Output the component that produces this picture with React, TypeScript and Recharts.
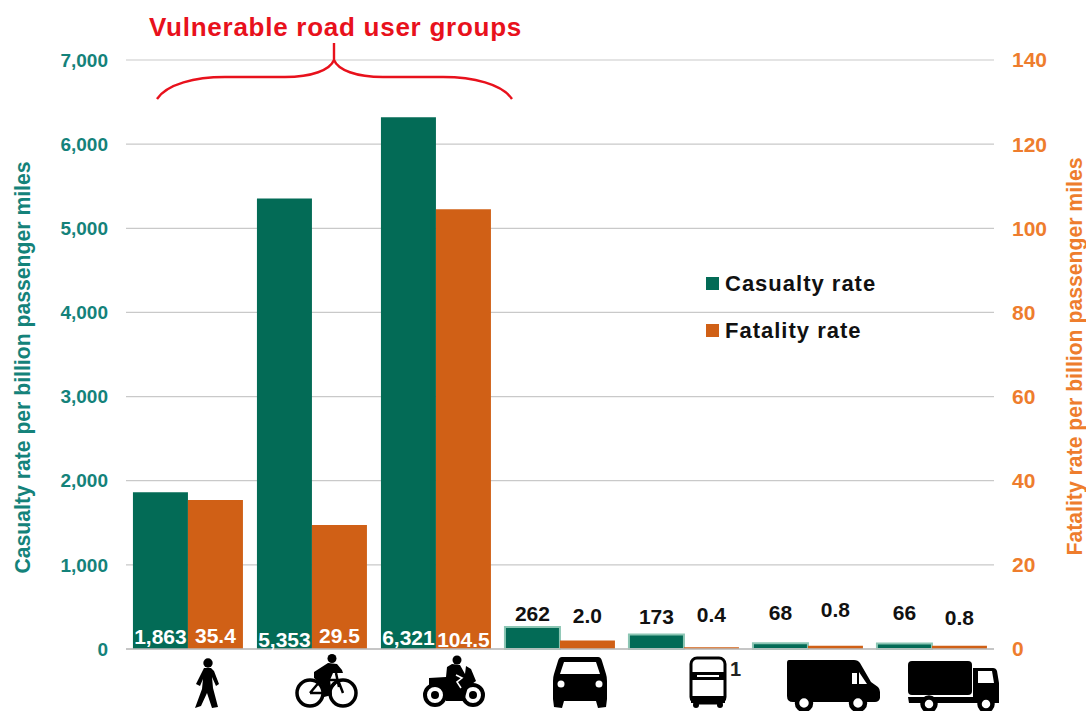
import { BarChart, Bar, XAxis, YAxis, CartesianGrid, Cell, LabelList, Legend } from 'recharts';

const categories = ['Pedestrian', 'Cyclist', 'Motorcyclist', 'Car', 'Bus', 'Van', 'Truck'];
const casualtyRates = [1863, 5353, 6321, 262, 173, 68, 66];
const fatalityRates = [35.4, 29.5, 104.5, 2.0, 0.4, 0.8, 0.8];
const leftTicks = [0, 1000, 2000, 3000, 4000, 5000, 6000, 7000];
const rightTicks = [0, 20, 40, 60, 80, 100, 120, 140];

const data = categories.map((name, i) => ({
  name,
  casualty: casualtyRates[i],
  fatality: fatalityRates[i],
}));

// Colors
const GREEN = '#036b56';
const ORANGE = '#d06016';
const GREEN_EDGE = '#8cc6b4';
const TEAL_TEXT = '#14827a';
const ORANGE_TEXT = '#ee7d2d';
const RED = '#e8111c';
const FONT = '"Liberation Sans", Arial, sans-serif';

// Hand placed label heights above the baseline, the source labels are not aligned
const CASUALTY_LABEL_RISE = [13, 10, 12, 36, 33, 37, 37];
const FATALITY_LABEL_RISE = [14, 14, 10, 34, 35, 40, 32];
const ICON_DX = [20, 15, 18, 20, 24, 25, 21];

const Walker = () => (
  <g>
    <circle cx={0} cy={6} r={4.7} />
    <path d="M-4 11 L3 11 L6 14 L11 27 L8 29 L4 20 L5 31 L10 50 L4 51 L-1 36 L-7 49 L-13 51 L-6 32 L-5 22 L-8 29 L-12 27 Z" />
  </g>
);

const Bike = () => (
  <g>
    <circle cx={5} cy={1.5} r={4.5} />
    <circle cx={-17} cy={36} r={13} fill="none" stroke="#000" strokeWidth={3.5} />
    <circle cx={16} cy={36} r={13} fill="none" stroke="#000" strokeWidth={3.5} />
    <path d="M-17 36 L-6 23 L11 23 L16 36 M-17 36 L0 36 L-6 23 M0 36 L11 23 M9 16 L12 30" fill="none" stroke="#000" strokeWidth={2.5} />
    <path d="M1 6 L10 7 L15 13 L16 16 L6 16 L3 23 L5 38 L-3 40 L-5 28 L-13 21 L-13 15 Z" />
  </g>
);

const Motorbike = () => (
  <g>
    <circle cx={3} cy={3} r={4.5} />
    <circle cx={-19} cy={38} r={10} fill="none" stroke="#000" strokeWidth={4} />
    <circle cx={-19} cy={38} r={4} />
    <circle cx={19} cy={38} r={10} fill="none" stroke="#000" strokeWidth={4} />
    <circle cx={19} cy={38} r={4} />
    <path d="M-25 21 L-8 20 L-7 10 L-2 7 L6 8 L11 17 L12 9 L17 12 L22 24 L14 30 L10 44 L-8 44 L-9 32 L-25 28 Z" />
    <path d="M2 18 L8 21 L3 25 L7 31" fill="none" stroke="#fff" strokeWidth={1.6} />
  </g>
);

const CarIcon = () => (
  <g>
    <path d="M-18 0 L18 0 Q21 0 22 4 L26 17 Q27 20 27 24 L27 42 L26 50 L18 51 L16 44 L-16 44 L-18 51 L-26 50 L-27 42 L-27 24 Q-27 20 -26 17 L-22 4 Q-21 0 -18 0 Z" />
    <path d="M-16 5 L16 5 L20 17 L-20 17 Z" fill="#fff" />
    <ellipse cx={-19} cy={27} rx={3.5} ry={3.5} fill="#fff" />
    <ellipse cx={19} cy={27} rx={3.5} ry={3.5} fill="#fff" />
  </g>
);

const BusIcon = () => (
  <g>
    <rect x={-17} y={1} width={34} height={45} rx={6} fill="#fff" stroke="#000" strokeWidth={3} />
    <rect x={-17} y={15} width={34} height={8} />
    <rect x={-11} y={18} width={22} height={2} fill="#fff" />
    <rect x={-17} y={39} width={34} height={7} />
    <circle cx={-12} cy={48} r={3} />
    <circle cx={12} cy={48} r={3} />
  </g>
);

const VanIcon = () => (
  <g transform="translate(0,3)">
    <path d="M-44 0 L21 0 Q25 0 27 3 L38 22 L45 27 Q47 29 47 32 L47 38 Q46 42 42 42 L-40 42 Q-46 42 -46 36 L-46 3 Q-46 0 -44 0 Z" />
    <path d="M19 13 L24 13 L24 24 L19 24 Z M26 12 L34 24 L26 24 Z" fill="#fff" />
    <circle cx={-29} cy={43} r={7} fill="#fff" stroke="#000" strokeWidth={4.5} />
    <circle cx={25} cy={43} r={7} fill="#fff" stroke="#000" strokeWidth={4.5} />
  </g>
);

const TruckIcon = () => (
  <g transform="translate(0,4)">
    <rect x={-45} y={0} width={64} height={34} rx={4} />
    <path d="M20 7 L40 7 Q43 7 44 10 L46 22 L46 42 L-44 42 L-45 36 L20 36 Z" />
    <path d="M25 10 L39 10 L41 22 L25 22 Z" fill="#fff" />
    <circle cx={-24} cy={43} r={6.5} fill="#fff" stroke="#000" strokeWidth={4.5} />
    <circle cx={33} cy={43} r={6.5} fill="#fff" stroke="#000" strokeWidth={4.5} />
  </g>
);

const ICONS = [Walker, Bike, Motorbike, CarIcon, BusIcon, VanIcon, TruckIcon];

const IconTick = ({ x, y, index }: any) => {
  const Icon = ICONS[index];
  return (
    <g transform={`translate(${x + ICON_DX[index]},${y})`} fill="#000">
      <Icon />
      {index === 4 && (
        <text x={22} y={19} fontFamily={FONT} fontWeight="bold" fontSize={20} fill="#222">
          1
        </text>
      )}
    </g>
  );
};

const makeBarLabel = (rises: number[], format: (v: number) => string) => ({ x, y, width, height, index, value }: any) => {
  const inside = index < 3;
  return (
    <text
      x={x + width / 2}
      y={y + height - rises[index]}
      textAnchor="middle"
      dominantBaseline="central"
      fontFamily={FONT}
      fontWeight="bold"
      fontSize={21}
      fill={inside ? '#fff' : '#111'}
    >
      {format(value)}
    </text>
  );
};

const LegendBox = ({ payload }: any) => (
  <div style={{ fontFamily: FONT, fontWeight: 'bold', fontSize: 22, letterSpacing: 1, color: '#111' }}>
    {payload.map((item: any) => (
      <div key={item.value} style={{ display: 'flex', alignItems: 'center', height: 47 }}>
        <span style={{ width: 13, height: 13, background: item.color, marginRight: 6 }} />
        {item.value}
      </div>
    ))}
  </div>
);

const App = () => (
  <div style={{ position: 'absolute', left: 0, top: 0, background: '#fff' }}>
    <BarChart
      width={1086}
      height={711}
      data={data}
      margin={{ top: 60, right: 22, bottom: 0, left: 26 }}
      barCategoryGap="5.6%"
      barGap={0}
    >
      <CartesianGrid yAxisId="left" vertical={false} stroke="#c9c9c9" strokeWidth={1.2} />
      <XAxis
        dataKey="name"
        xAxisId={0}
        height={62}
        interval={0}
        tickLine={false}
        axisLine={{ stroke: '#bdbdbd', strokeWidth: 1.5 }}
        tick={<IconTick />}
      />
      <YAxis
        yAxisId="left"
        width={100}
        domain={[0, 7000]}
        ticks={leftTicks}
        tickFormatter={(v) => v.toLocaleString('en-US')}
        tickLine={false}
        axisLine={false}
        tick={{ fill: TEAL_TEXT, fontFamily: FONT, fontWeight: 'bold', fontSize: 19 }}
        tickMargin={12}
        label={{
          value: 'Casualty rate per billion passenger miles',
          angle: -90,
          position: 'insideLeft',
          dx: -9,
          dy: 13,
          fill: TEAL_TEXT,
          fontFamily: FONT,
          fontWeight: 'bold',
          fontSize: 21.2,
          style: { textAnchor: 'middle' },
        }}
      />
      <YAxis
        yAxisId="right"
        orientation="right"
        width={70}
        domain={[0, 140]}
        ticks={rightTicks}
        tickLine={false}
        axisLine={false}
        tick={{ fill: ORANGE_TEXT, fontFamily: FONT, fontWeight: 'bold', fontSize: 21 }}
        tickMargin={12}
        label={{
          value: 'Fatality rate per billion passenger miles',
          angle: -90,
          position: 'insideRight',
          dx: 15,
          dy: 2,
          fill: ORANGE_TEXT,
          fontFamily: FONT,
          fontWeight: 'bold',
          fontSize: 21.2,
          style: { textAnchor: 'middle' },
        }}
      />
      <Legend
        layout="vertical"
        align="center"
        verticalAlign="middle"
        wrapperStyle={{ left: 706, top: 260, width: 200, height: 94 }}
        content={<LegendBox />}
      />
      <Bar yAxisId="left" dataKey="casualty" name="Casualty rate" fill={GREEN} isAnimationActive={false}>
        {data.map((d, i) => (
          <Cell key={d.name} stroke={i < 3 ? 'none' : GREEN_EDGE} strokeWidth={2} />
        ))}
        <LabelList dataKey="casualty" content={makeBarLabel(CASUALTY_LABEL_RISE, (v) => v.toLocaleString('en-US'))} />
      </Bar>
      <Bar yAxisId="right" dataKey="fatality" name="Fatality rate" fill={ORANGE} isAnimationActive={false}>
        <LabelList dataKey="fatality" content={makeBarLabel(FATALITY_LABEL_RISE, (v) => v.toFixed(1))} />
      </Bar>
      <text x={335.5} y={36} textAnchor="middle" fontFamily={FONT} fontWeight="bold" fontSize={26} letterSpacing={0.74} fill={RED}>
        Vulnerable road user groups
      </text>
      <path
        d="M157 99 C167 84 195 77 225 77 L285 77 C312 77 330 70 334 60 L334 43 L334 60 C338 70 356 77 383 77 L443 77 C473 77 502 84 512 99"
        fill="none"
        stroke={RED}
        strokeWidth={2.4}
      />
    </BarChart>
  </div>
);

export default App;
